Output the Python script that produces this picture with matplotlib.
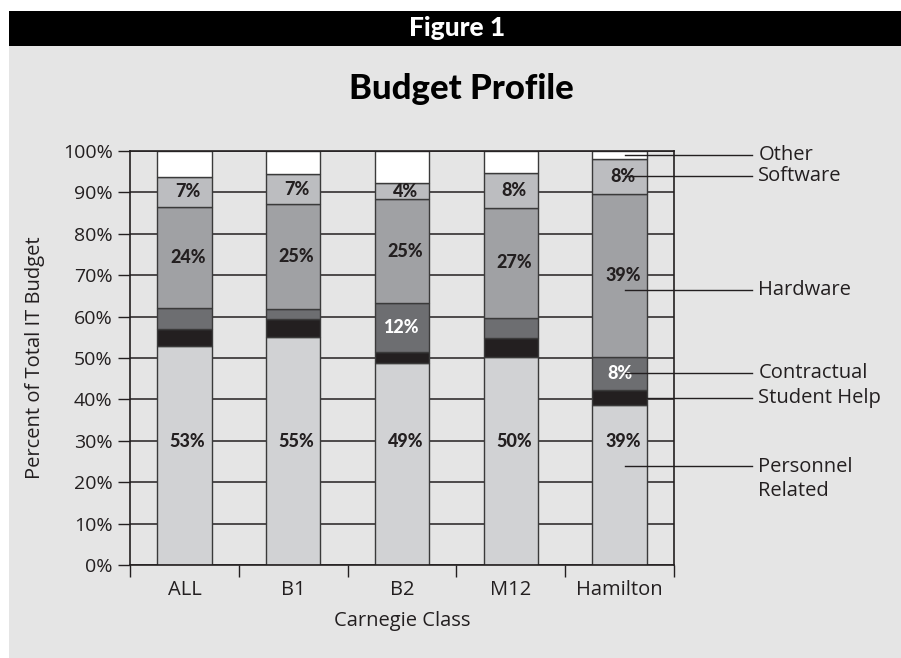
import matplotlib
matplotlib.use('Agg')
import matplotlib.pyplot as plt
import numpy as np
from matplotlib.patches import Rectangle

# data (percent of total IT budget)
categories = ['ALL', 'B1', 'B2', 'M12', 'Hamilton']
segments = ['Personnel\nRelated', 'Student Help', 'Contractual', 'Hardware', 'Software', 'Other']
personnel = [53.0, 55.0, 48.7, 50.3, 38.6]
student_help = [4.0, 4.4, 2.8, 4.5, 3.7]
contractual = [5.1, 2.4, 11.8, 4.9, 8.0]
hardware = [24.4, 25.4, 25.0, 26.6, 39.4]
software = [7.2, 7.2, 4.0, 8.4, 8.3]
other = [6.3, 5.6, 7.7, 5.3, 2.0]

series = [personnel, student_help, contractual, hardware, software, other]
colors = ['#d1d2d4', '#231f20', '#6d6e71', '#a0a1a4', '#bcbdc0', '#ffffff']
INK = '#231f20'
BG = '#e5e5e5'
FS = 14.5
BOLD = ['Lato', 'DejaVu Sans']

plt.rcParams['font.family'] = ['Open Sans', 'DejaVu Sans']

fig = plt.figure(figsize=(9.01, 6.58), dpi=100)
W, H = 901.0, 658.0
fig.patches.append(Rectangle((9 / W, 0), 1, 1 - 46 / H, transform=fig.transFigure,
                             facecolor=BG, edgecolor='none', zorder=-10))
fig.patches.append(Rectangle((9 / W, 1 - 46 / H), 1, 35 / H, transform=fig.transFigure,
                             facecolor='black', edgecolor='none', zorder=-10))
fig.text(457 / W, 1 - 28 / H, 'Figure 1', color='white', fontsize=19, fontweight='black',
         family=BOLD, ha='center', va='center')
fig.text(461 / W, 1 - 89 / H, 'Budget Profile', color='black', fontsize=25, fontweight='black',
         family=BOLD, ha='center', va='center')

ax = fig.add_axes([130 / W, 1 - 565 / H, 544 / W, 414 / H])
ax.set_facecolor(BG)

x = np.arange(len(categories))
bottom = np.zeros(len(categories))
for vals, col in zip(series, colors):
    ax.bar(x, vals, width=0.5, bottom=bottom, color=col, edgecolor='#3a3a3a', linewidth=1, zorder=2)
    bottom += np.array(vals)

# value labels inside bars
lab = dict(ha='center', va='center', fontsize=13, fontweight='black', family=BOLD, zorder=3)
cum = np.cumsum(np.vstack([np.zeros(len(categories))] + [np.array(s) for s in series]), axis=0)
for i in range(len(categories)):
    ax.text(x[i] + 0.03, 29.8, f"{personnel[i]:.0f}%", color=INK, **lab)
    for k in (3, 4):
        mid = (cum[k, i] + cum[k + 1, i]) / 2
        ax.text(x[i] + 0.03, mid, f"{series[k][i]:.0f}%", color=INK, **lab)
    if contractual[i] >= 6:
        mid = (cum[2, i] + cum[3, i]) / 2
        ax.text(x[i], mid, f"{contractual[i]:.0f}%", color='white', **lab)

# right-hand callouts pointing into the Hamilton bar
last = len(categories) - 1
anchor = [0.62, 0.5, 0.5, 0.41, 0.5, 0.5]
x_end = (753 - 130) / 109.0 - 0.5
for k, name in enumerate(segments):
    y = cum[k, last] + anchor[k] * series[k][last]
    x0 = last + 0.25 if k == 1 else last + 0.05
    ax.plot([x0, x_end], [y, y], color=INK, lw=1, clip_on=False, zorder=4)
    if '\n' in name:
        ax.annotate(name, xy=(x_end + 0.06, y), xytext=(0, -9.5), textcoords='offset points',
                    ha='left', va='center', fontsize=FS, color=INK, linespacing=1.3,
                    annotation_clip=False)
    else:
        ax.text(x_end + 0.06, y, name, ha='left', va='center', fontsize=FS, color=INK, clip_on=False)

ax.set_xlim(-0.5, len(categories) - 0.5)
ax.set_ylim(0, 100)
ax.set_yticks(np.arange(0, 101, 10))
ax.set_yticklabels([f"{v}%" for v in range(0, 101, 10)], fontsize=14, color=INK)
ax.tick_params(axis='y', length=8.5, width=1, color=INK, pad=4)
ax.set_xticks(x)
ax.set_xticklabels(categories, fontsize=FS, color=INK)
ax.set_xticks(np.arange(-0.5, len(categories), 1), minor=True)
ax.tick_params(axis='x', which='major', length=0, pad=11)
ax.tick_params(axis='x', which='minor', length=8.5, width=1, color=INK)
ax.set_axisbelow(True)
ax.yaxis.grid(True, color=INK, lw=1.1, zorder=0)
for sp in ax.spines.values():
    sp.set_color(INK)
    sp.set_linewidth(1.2)

fig.text(402 / W, 1 - 621 / H, 'Carnegie Class', ha='center', va='center', fontsize=FS, color=INK)
fig.text(35 / W, 1 - 358 / H, 'Percent of Total IT Budget', ha='center', va='center',
         rotation=90, fontsize=FS, color=INK)

fig.savefig('out.png', dpi=100, facecolor='white')
